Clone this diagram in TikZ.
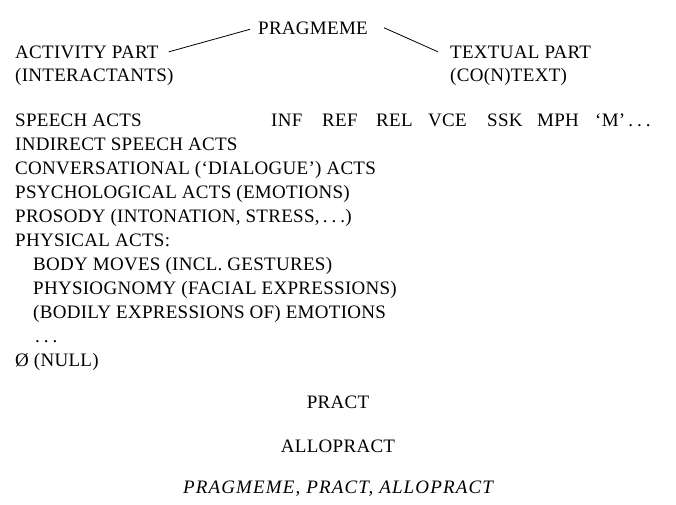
\documentclass[tikz,border=0pt]{standalone}
\usepackage{fontspec}
\setmainfont[LetterSpace=1.5]{Liberation Serif}
\newcommand{\spdots}{.\kern4pt.\kern4pt.}
\begin{document}
\begin{tikzpicture}[x=1pt, y=-1pt,
  every node/.style={font=\fontsize{19}{24}\selectfont, inner sep=0pt, anchor=base west},
  ctr/.style={anchor=base},
  link/.style={line width=0.8pt}]
  \useasboundingbox (0,0) rectangle (676,504);
  \node (prag) at (258,34) {PRAGMEME};
  \node (act) at (15,58) {ACTIVITY PART};
  \node (inter) at (15,81) {(INTERACTANTS)};
  \node (txt) at (450,58) {TEXTUAL PART};
  \node (cotxt) at (450,81) {(CO(N)TEXT)};
  \draw[link] ([xshift=10pt]act.east) -- ([xshift=-8pt,yshift=-1.5pt]prag.west);
  \draw[link] ([xshift=16pt]prag.east) -- ([xshift=-12pt]txt.west);
  % activity side
  \node (speech) at (15,126) {SPEECH ACTS};
  \node (indirect) at (15,150) {INDIRECT SPEECH ACTS};
  \node (conv) at (15,174) {CONVERSATIONAL (‘DIALOGUE’) ACTS};
  \node (psych) at (15,198) {PSYCHOLOGICAL ACTS (EMOTIONS)};
  \node (pros) at (15,222) {PROSODY (INTONATION, STRESS,\,\spdots)};
  \node (phys) at (15,246) {PHYSICAL ACTS:};
  \node (body) at (33,270) {BODY MOVES (INCL. GESTURES)};
  \node (physio) at (33,294) {PHYSIOGNOMY (FACIAL EXPRESSIONS)};
  \node (bodily) at (33,318) {(BODILY EXPRESSIONS OF) EMOTIONS};
  \node (more) at (35,342) {\spdots};
  \node (null) at (15,366) {Ø (NULL)};
  % textual side
  \node (inf) at (271,126) {INF};
  \node (ref) at (322,126) {REF};
  \node (rel) at (376,126) {REL};
  \node (vce) at (428,126) {VCE};
  \node (ssk) at (487,126) {SSK};
  \node (mph) at (537,126) {MPH};
  \node (mm) at (595,126) {‘M’\,\spdots};
  % bottom
  \node[ctr] (pract) at (338,408) {PRACT};
  \node[ctr] (allo) at (338,452) {ALLOPRACT};
  \node[ctr] (title) at (338,493) {\itshape\addfontfeature{LetterSpace=6}PRAGMEME, PRACT, ALLOPRACT};
\end{tikzpicture}
\end{document}
